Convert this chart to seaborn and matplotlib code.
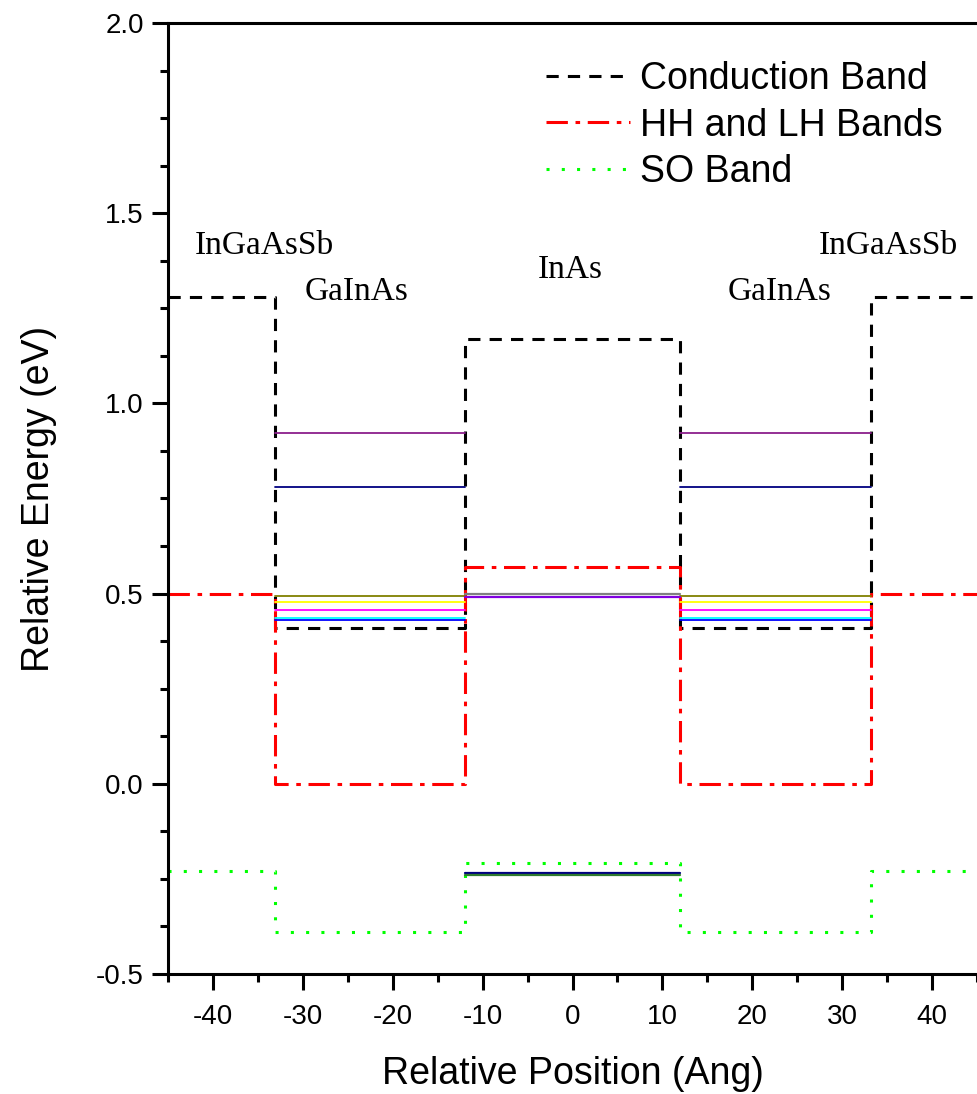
import numpy as np
import pandas as pd
import matplotlib
matplotlib.use('Agg')
import matplotlib.pyplot as plt
import seaborn as sns
from matplotlib.ticker import MultipleLocator

sns.set_style('ticks', {'axes.edgecolor': 'black', 'xtick.color': 'black',
                        'ytick.color': 'black', 'text.color': 'black',
                        'axes.labelcolor': 'black'})
plt.rcParams['font.family'] = ['Liberation Sans', 'DejaVu Sans']
plt.rcParams['axes.unicode_minus'] = False

# region boundaries (Ang): InGaAsSb | GaInAs | InAs | GaInAs | InGaAsSb
bounds = [-45, -33.1, -12, 12, 33.2, 45]

# band edges per region (eV)
cb = [1.28, 0.41, 1.17, 0.41, 1.28]
hh_lh = [0.50, 0.00, 0.57, 0.00, 0.50]
so = [-0.23, -0.39, -0.208, -0.39, -0.23]

# confined levels in the GaInAs wells
well_levels = [0.923, 0.781, 0.495, 0.479, 0.456, 0.436, 0.430]
well_colors = ['#8B1F8B', '#000080', '#808000', '#FFFF00', '#FF00FF', '#00FFFF', '#0000FF']

# levels in the InAs layer
inas_levels = [0.499, 0.492, -0.235, -0.241]
inas_colors = ['#808080', '#8000E0', '#000080', '#2F7A2F']

labels = ['InGaAsSb', 'GaInAs', 'InAs', 'GaInAs', 'InGaAsSb']
label_x = [-34.3, -24, -0.2, 23, 35.1]
label_y = [1.414, 1.293, 1.351, 1.293, 1.414]

fig = plt.figure(figsize=(9.77, 10.94), dpi=100)
ax = fig.add_axes([168 / 977, 1 - 974 / 1094, 1 - 168 / 977, (974 - 23) / 1094])


def band_df(vals):
    return pd.DataFrame({'x': bounds, 'y': vals + [vals[-1]]})


lw = 2.2
sns.lineplot(data=band_df(cb), x='x', y='y', ax=ax, color='black', lw=lw,
             linestyle=(0, (4, 3)), drawstyle='steps-post', sort=False,
             estimator=None, label='Conduction Band')
sns.lineplot(data=band_df(hh_lh), x='x', y='y', ax=ax, color='red', lw=lw,
             linestyle=(0, (7, 2.5, 1.5, 2.5)), drawstyle='steps-post', sort=False,
             estimator=None, label='HH and LH Bands')
sns.lineplot(data=band_df(so), x='x', y='y', ax=ax, color='#00FF00', lw=lw,
             linestyle=(0, (1, 4)), drawstyle='steps-post', sort=False,
             estimator=None, label='SO Band')

# levels: both wells get the same set
for x0, x1 in [(bounds[1], bounds[2]), (bounds[3], bounds[4])]:
    for e, c in zip(well_levels, well_colors):
        sns.lineplot(x=[x0, x1], y=[e, e], ax=ax, color=c, lw=1.3, estimator=None,
                     legend=False)
for e, c in zip(inas_levels, inas_colors):
    sns.lineplot(x=[bounds[2], bounds[3]], y=[e, e], ax=ax, color=c, lw=1.6,
                 estimator=None, legend=False)

for t, x, y in zip(labels, label_x, label_y):
    ax.text(x, y, t, ha='center', va='center', fontsize=24, family='Liberation Serif')

ax.set_xlim(-45, 45)
ax.set_ylim(-0.5, 2.0)
ax.xaxis.set_major_locator(MultipleLocator(10))
ax.xaxis.set_minor_locator(MultipleLocator(5))
ax.yaxis.set_major_locator(MultipleLocator(0.5))
ax.yaxis.set_minor_locator(MultipleLocator(0.125))
ax.yaxis.set_major_formatter(matplotlib.ticker.FormatStrFormatter('%.1f'))
ax.tick_params(which='major', length=11.5, width=2.2, labelsize=20, direction='out')
ax.tick_params(which='minor', length=5.8, width=2.2, direction='out')
ax.tick_params(axis='x', pad=10)
ax.tick_params(axis='y', pad=6)

for s in ['left', 'bottom', 'top']:
    ax.spines[s].set_linewidth(2.2)
ax.spines['right'].set_visible(False)

ax.set_xlabel('Relative Position (Ang)', fontsize=27, labelpad=19)
ax.set_ylabel('Relative Energy (eV)', fontsize=27, labelpad=28)

ax.legend(loc='upper left', bbox_to_anchor=(0.467, 0.96), frameon=False, fontsize=27,
          borderpad=0, borderaxespad=0, handlelength=2.25, handletextpad=0.27,
          labelspacing=0.28)

fig.savefig('out.png', dpi=100)
